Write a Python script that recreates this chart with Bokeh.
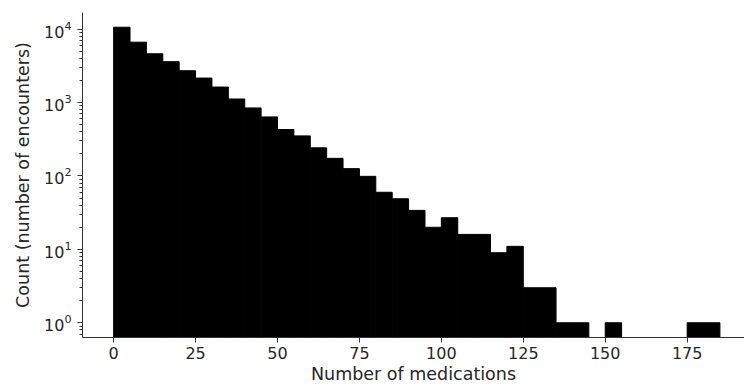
from bokeh.plotting import figure
from bokeh.models import FixedTicker, Range1d
from bokeh.embed import file_html
from bokeh.resources import INLINE

# Histogram bins (number of medications, bin width 5) and counts
bin_starts = [0, 5, 10, 15, 20, 25, 30, 35, 40, 45, 50, 55, 60, 65, 70, 75, 80, 85,
              90, 95, 100, 105, 110, 115, 120, 125, 130, 135, 140, 145, 150, 155,
              160, 165, 170, 175, 180]
bin_ends = [5, 10, 15, 20, 25, 30, 35, 40, 45, 50, 55, 60, 65, 70, 75, 80, 85, 90,
            95, 100, 105, 110, 115, 120, 125, 130, 135, 140, 145, 150, 155, 160,
            165, 170, 175, 180, 185]
counts = [10650, 6660, 4630, 3610, 2720, 2160, 1630, 1120, 846, 638, 430, 352, 242,
          174, 126, 99, 60, 49, 34, 20, 27, 16, 16, 9, 11, 3, 3, 1, 1, 0, 1, 0,
          0, 0, 0, 1, 1]
x_ticks = [0, 25, 50, 75, 100, 125, 150, 175]
x_label = "Number of medications"
y_label = "Count (number of encounters)"

# keep only non-empty bins (log scale)
left = [a for a, c in zip(bin_starts, counts) if c > 0]
right = [b for b, c in zip(bin_ends, counts) if c > 0]
top = [c for c in counts if c > 0]
bottom = [0.01] * len(top)

p = figure(width=744, height=389, y_axis_type="log", output_backend="svg",
           toolbar_location=None,
           x_range=Range1d(-9.5, 192.5), y_range=Range1d(0.63, 16900),
           min_border_left=82, min_border_right=0, min_border_top=12,
           min_border_bottom=52)

p.quad(left=left, right=right, bottom=bottom, top=top,
       fill_color="black", line_color="black", line_width=1)

p.outline_line_color = None
p.xgrid.visible = False
p.ygrid.visible = False
p.background_fill_color = "white"
p.border_fill_color = "white"

font = "DejaVu Sans"
for ax in (p.xaxis[0], p.yaxis[0]):
    ax.axis_line_color = "#333333"
    ax.major_tick_line_color = "#333333"
    ax.minor_tick_line_color = "#333333"
    ax.major_tick_in = 0
    ax.major_tick_out = 5
    ax.major_label_text_font = font
    ax.major_label_text_font_size = "16px"
    ax.major_label_text_color = "#262626"
    ax.axis_label_text_font = font
    ax.axis_label_text_font_size = "17.5px"
    ax.axis_label_text_font_style = "normal"
    ax.axis_label_text_color = "#262626"

p.xaxis.ticker = FixedTicker(ticks=x_ticks, minor_ticks=[])
p.xaxis.axis_label = x_label
p.xaxis.major_label_standoff = 4
p.xaxis.axis_label_standoff = 2
p.xaxis.minor_tick_out = 0

p.yaxis.axis_label = y_label
p.yaxis.minor_tick_in = 0
p.yaxis.minor_tick_out = 3
p.yaxis.major_label_standoff = 6
p.yaxis.axis_label_standoff = 8

open("out.html", "w").write(file_html(p, INLINE))
